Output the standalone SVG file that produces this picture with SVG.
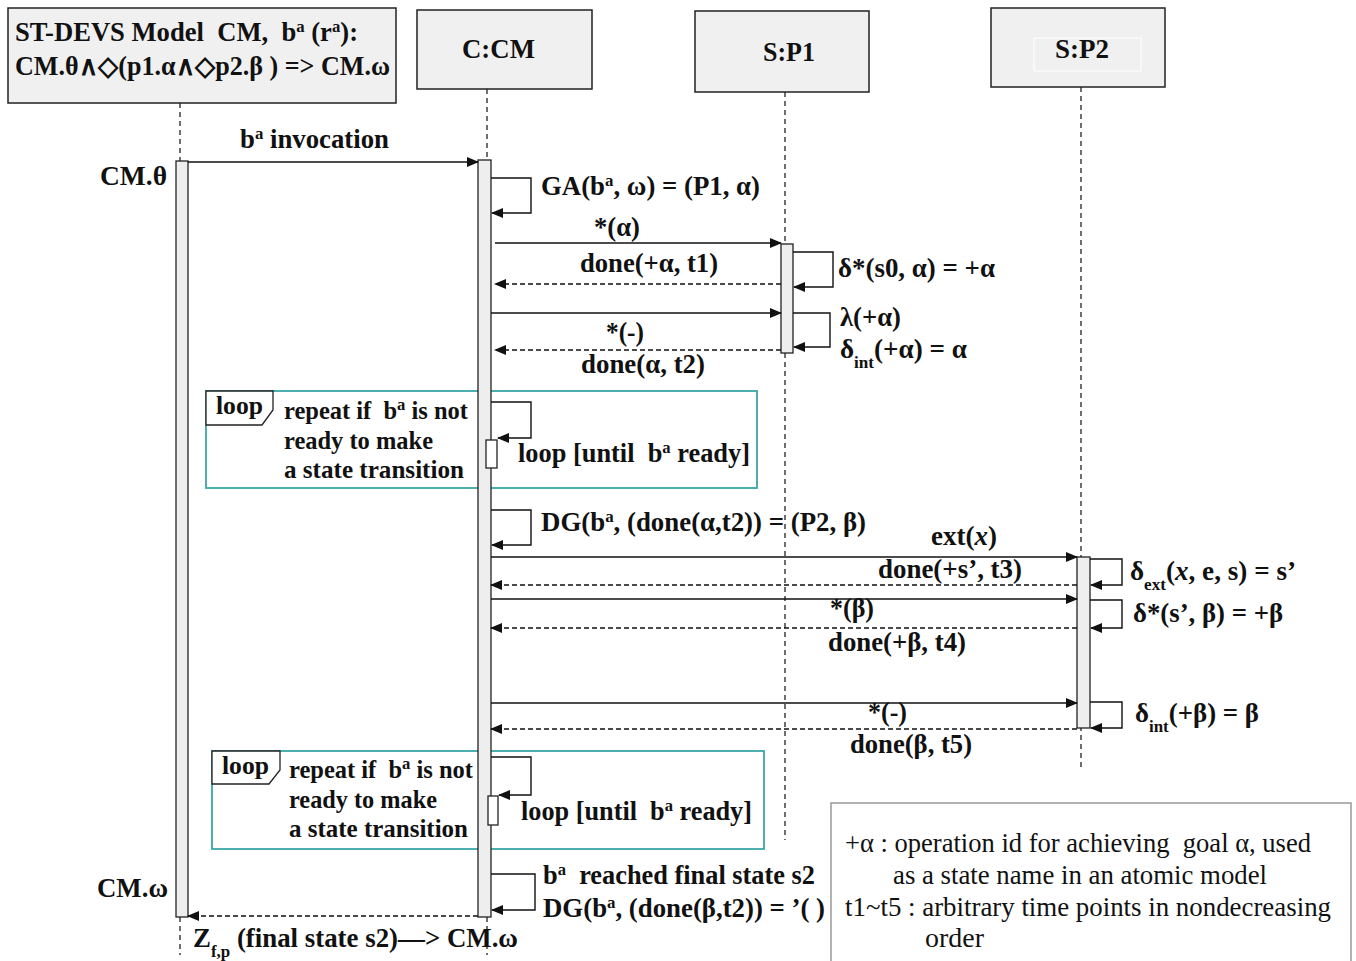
<svg xmlns="http://www.w3.org/2000/svg" width="1356" height="961" viewBox="0 0 1356 961">
<style>
.b{font-weight:bold;font-size:27px}
.f{font-weight:bold;font-size:25px}
.t{font-weight:bold;font-size:27px}
.n{font-size:26.5px}
.box{fill:#f0f0f0;stroke:#222;stroke-width:1.5}
.life{stroke:#222;stroke-width:1.3;stroke-dasharray:5,4;fill:none}
.act{fill:#eeeeee;stroke:#222;stroke-width:1.3}
.msg{stroke:#111;stroke-width:1.4;fill:none;marker-end:url(#ah)}
.ret{stroke:#111;stroke-width:1.4;fill:none;stroke-dasharray:5,3;marker-end:url(#ah)}
.frame{fill:none;stroke:#3aa7a7;stroke-width:1.8}
.tag{fill:#fff;stroke:#222;stroke-width:1.3}
.sup{font-size:17px;baseline-shift:super}
.sub{font-size:17px;baseline-shift:sub}
</style>
<defs>
<marker id="ah" markerWidth="12" markerHeight="10" refX="11" refY="5" orient="auto" markerUnits="userSpaceOnUse">
<path d="M0,0 L12,5 L0,10 Z" fill="#111"/>
</marker>
</defs>
<rect width="1356" height="961" fill="#fff"/>

<g id="lifelines">
<line class="life" x1="180" y1="103" x2="180" y2="161"/>
<line class="life" x1="180" y1="917" x2="180" y2="955"/>
<line class="life" x1="487" y1="89" x2="487" y2="160"/>
<line class="life" x1="487" y1="917" x2="487" y2="955"/>
<line class="life" x1="785" y1="92" x2="785" y2="840"/>
<line class="life" x1="1081" y1="87" x2="1081" y2="770"/>
</g>

<g font-family="Liberation Serif, Times New Roman, serif" fill="#111">
<g id="node-stdevs">
<rect class="box" x="8" y="8" width="388" height="95"/>
<text class="t" x="15" y="41" textLength="343" lengthAdjust="spacingAndGlyphs">ST-DEVS Model&#160; CM,&#160; b<tspan class="sup">a</tspan> (r<tspan class="sup">a</tspan>):</text>
<text class="t" x="15" y="75" textLength="375" lengthAdjust="spacingAndGlyphs">CM.θ∧◇(p1.α∧◇p2.β ) =&gt; CM.ω</text>
</g>
<g id="node-ccm">
<rect class="box" x="417" y="10" width="175" height="79"/>
<text class="t" x="462" y="58" textLength="73" lengthAdjust="spacingAndGlyphs">C:CM</text>
</g>
<g id="node-sp1">
<rect class="box" x="695" y="11" width="174" height="81"/>
<text class="t" x="763" y="61" textLength="52" lengthAdjust="spacingAndGlyphs">S:P1</text>
</g>
<g id="node-sp2">
<rect class="box" x="991" y="8" width="174" height="79"/>
<rect x="1034" y="38" width="107" height="33" fill="none" stroke="#fff" stroke-width="1"/>
<text class="t" x="1055" y="58" textLength="54" lengthAdjust="spacingAndGlyphs">S:P2</text>
</g>

<g id="frames">
<rect class="frame" x="206" y="391" width="551" height="97"/>
<path class="tag" d="M206,391 H273 V410 L262,425 H206 Z"/>
<text class="f" x="216" y="414" textLength="47" lengthAdjust="spacingAndGlyphs">loop</text>
<text class="f" x="284" y="419" textLength="184" lengthAdjust="spacingAndGlyphs">repeat if&#160; b<tspan class="sup">a</tspan> is not</text>
<text class="f" x="284" y="449" textLength="149" lengthAdjust="spacingAndGlyphs">ready to make</text>
<text class="f" x="284" y="478" textLength="180" lengthAdjust="spacingAndGlyphs">a state transition</text>
<text class="b" x="518" y="462" textLength="232" lengthAdjust="spacingAndGlyphs">loop [until&#160; b<tspan class="sup">a</tspan> ready]</text>

<rect class="frame" x="212" y="751" width="552" height="98"/>
<path class="tag" d="M212,751 H280 V770 L269,784 H212 Z"/>
<text class="f" x="222" y="774" textLength="47" lengthAdjust="spacingAndGlyphs">loop</text>
<text class="f" x="289" y="778" textLength="184" lengthAdjust="spacingAndGlyphs">repeat if&#160; b<tspan class="sup">a</tspan> is not</text>
<text class="f" x="289" y="808" textLength="148" lengthAdjust="spacingAndGlyphs">ready to make</text>
<text class="f" x="289" y="837" textLength="179" lengthAdjust="spacingAndGlyphs">a state transition</text>
<text class="b" x="521" y="820" textLength="231" lengthAdjust="spacingAndGlyphs">loop [until&#160; b<tspan class="sup">a</tspan> ready]</text>
</g>

<g id="activations">
<rect class="act" x="176" y="161" width="12" height="756"/>
<rect class="act" x="478" y="160" width="13" height="757"/>
<rect class="act" x="781" y="244" width="12" height="109"/>
<rect class="act" x="1077" y="557" width="13" height="171"/>
<rect x="486" y="440" width="11" height="28" fill="#fff" stroke="#222" stroke-width="1.3"/>
<rect x="488" y="796" width="10" height="29" fill="#fff" stroke="#222" stroke-width="1.3"/>
</g>

<g id="connectors">
<path class="msg" d="M188,162 H478"/>
<path class="msg" d="M491,178 H531 V213 H492"/>
<path class="msg" d="M495,243 H781"/>
<path class="ret" d="M781,284 H495"/>
<path class="msg" d="M793,252 H833 V287 H794"/>
<path class="msg" d="M491,313 H781"/>
<path class="ret" d="M781,350 H495"/>
<path class="msg" d="M793,313 H830 V347 H794"/>
<path class="msg" d="M491,402 H531 V438 H498"/>
<path class="msg" d="M491,510 H531 V545 H492"/>
<path class="msg" d="M491,557 H1077"/>
<path class="ret" d="M1077,585 H491"/>
<path class="msg" d="M1090,559 H1122 V585 H1091"/>
<path class="msg" d="M491,599 H1077"/>
<path class="msg" d="M1090,600 H1122 V628 H1091"/>
<path class="ret" d="M1077,628 H491"/>
<path class="msg" d="M491,703 H1077"/>
<path class="msg" d="M1090,702 H1122 V728 H1091"/>
<path class="ret" d="M1077,729 H491"/>
<path class="msg" d="M491,757 H531 V795 H499"/>
<path class="msg" d="M491,874 H535 V910 H492"/>
<path class="ret" d="M478,916 H188"/>
</g>

<g id="labels">
<text class="b" x="240" y="148" textLength="149" lengthAdjust="spacingAndGlyphs">b<tspan class="sup">a</tspan> invocation</text>
<text class="b" x="100" y="185" textLength="67" lengthAdjust="spacingAndGlyphs">CM.θ</text>
<text class="b" x="541" y="195" textLength="219" lengthAdjust="spacingAndGlyphs">GA(b<tspan class="sup">a</tspan>, ω) = (P1, α)</text>
<text class="b" x="594" y="236" textLength="46" lengthAdjust="spacingAndGlyphs">*(α)</text>
<text class="b" x="580" y="272" textLength="138" lengthAdjust="spacingAndGlyphs">done(+α, t1)</text>
<text class="b" x="838" y="277" textLength="157" lengthAdjust="spacingAndGlyphs">δ*(s0, α) = +α</text>
<text class="b" x="606" y="341" textLength="38" lengthAdjust="spacingAndGlyphs">*(-)</text>
<text class="b" x="581" y="373" textLength="124" lengthAdjust="spacingAndGlyphs">done(α, t2)</text>
<text class="b" x="840" y="326" textLength="61" lengthAdjust="spacingAndGlyphs">λ(+α)</text>
<text class="b" x="840" y="358" textLength="127" lengthAdjust="spacingAndGlyphs">δ<tspan class="sub">int</tspan>(+α) = α</text>
<text class="b" x="541" y="531" textLength="325" lengthAdjust="spacingAndGlyphs">DG(b<tspan class="sup">a</tspan>, (done(α,t2)) = (P2, β)</text>
<text class="b" x="931" y="545" textLength="66" lengthAdjust="spacingAndGlyphs">ext(<tspan font-style="italic">x</tspan>)</text>
<text class="b" x="878" y="578" textLength="144" lengthAdjust="spacingAndGlyphs">done(+s’, t3)</text>
<text class="b" x="1130" y="580" textLength="166" lengthAdjust="spacingAndGlyphs">δ<tspan class="sub">ext</tspan>(<tspan font-style="italic">x</tspan>, e, s) = s’</text>
<text class="b" x="830" y="617" textLength="44" lengthAdjust="spacingAndGlyphs">*(β)</text>
<text class="b" x="1133" y="622" textLength="150" lengthAdjust="spacingAndGlyphs">δ*(s’, β) = +β</text>
<text class="b" x="828" y="651" textLength="138" lengthAdjust="spacingAndGlyphs">done(+β, t4)</text>
<text class="b" x="868" y="721" textLength="39" lengthAdjust="spacingAndGlyphs">*(-)</text>
<text class="b" x="1135" y="722" textLength="124" lengthAdjust="spacingAndGlyphs">δ<tspan class="sub">int</tspan>(+β) = β</text>
<text class="b" x="850" y="753" textLength="122" lengthAdjust="spacingAndGlyphs">done(β, t5)</text>
<text class="b" x="543" y="884" textLength="272" lengthAdjust="spacingAndGlyphs">b<tspan class="sup">a</tspan>&#160; reached final state s2</text>
<text class="b" x="543" y="917" textLength="282" lengthAdjust="spacingAndGlyphs">DG(b<tspan class="sup">a</tspan>, (done(β,t2)) = ’( )</text>
<text class="b" x="97" y="897" textLength="71" lengthAdjust="spacingAndGlyphs">CM.ω</text>
<text class="b" x="193" y="947" textLength="325" lengthAdjust="spacingAndGlyphs">Z<tspan class="sub">f,p</tspan> (final state s2)—&gt; CM.ω</text>
</g>

<g id="note">
<rect x="831" y="803" width="520" height="165" fill="#fff" stroke="#999" stroke-width="1.5"/>
<text class="n" x="845" y="852" textLength="466" lengthAdjust="spacingAndGlyphs">+α : operation id for achieving&#160; goal α, used</text>
<text class="n" x="893" y="884" textLength="374" lengthAdjust="spacingAndGlyphs">as a state name in an atomic model</text>
<text class="n" x="845" y="916" textLength="486" lengthAdjust="spacingAndGlyphs">t1~t5 : arbitrary time points in nondecreasing</text>
<text class="n" x="925" y="947" textLength="59" lengthAdjust="spacingAndGlyphs">order</text>
</g>
</g>
</svg>
